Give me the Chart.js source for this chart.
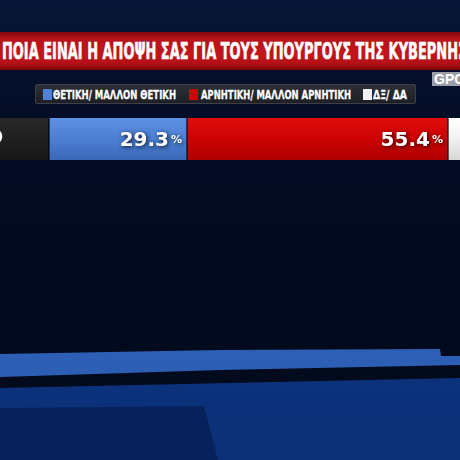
<!DOCTYPE html>
<html>
<head>
<meta charset="utf-8">
<script src="https://cdn.jsdelivr.net/npm/chart.js@4.4.1/dist/chart.umd.min.js"></script>
<style>
  html, body { margin: 0; padding: 0; width: 460px; height: 460px; overflow: hidden; }
  body {
    position: relative;
    background: linear-gradient(180deg, #081638 0%, #050e28 22%, #020a1e 55%, #020a1c 100%);
    font-family: "DejaVu Sans", "Liberation Sans", sans-serif;
  }
  .shape { position: absolute; left: 0; top: 0; width: 460px; height: 460px; }
  #lower { background: linear-gradient(180deg, #0b2f78 0%, #0d3684 40%, #0b3078 100%);
           clip-path: polygon(0 388px, 460px 378px, 460px 460px, 0 460px); }
  #wedge { background: linear-gradient(180deg, #072463 0%, #06215b 100%);
           clip-path: polygon(0 408px, 204px 406px, 218px 460px, 0 460px); }
  #strip { background: linear-gradient(180deg, #3468c0 0%, #2b5cb2 100%);
           clip-path: polygon(0 354px, 220px 350px, 440px 349px, 441px 356px, 460px 356px, 460px 365px, 220px 370px, 0 377px); }
  #banner {
    position: absolute; left: 0; top: 32px; width: 460px; height: 38px; overflow: hidden;
    background: linear-gradient(180deg, #7e070b 0%, #b8121a 18%, #c2161c 60%, #b01016 85%, #7a060a 100%);
  }
  #titleText {
    position: absolute; left: 2px; top: 0; line-height: 38px; white-space: nowrap;
    color: #ffffff; font-weight: bold; font-size: 23px; transform-origin: left center;
    -webkit-text-stroke: 0.6px #ffffff;
  }
  #gpo {
    position: absolute; left: 432px; top: 72px; width: 30px; height: 14px; overflow: hidden;
    background: #9a9ea6; color: #ffffff; font-weight: bold; font-size: 14px; line-height: 15px;
    font-family: "Liberation Sans", sans-serif; padding-left: 2px; box-sizing: border-box;
  }
  #legendBox {
    position: absolute; left: 35px; top: 84px; width: 381px; height: 20px; box-sizing: border-box;
    background: linear-gradient(180deg, #2c2f36 0%, #1d1f25 100%);
    border: 1px solid #3d4048; border-radius: 2px;
  }
  .swatch { position: absolute; top: 89px; width: 9px; height: 11px; }
  .legendText {
    position: absolute; top: 86px; line-height: 17px; white-space: nowrap; color: #ffffff;
    font-weight: bold; font-size: 13px; transform-origin: left center;
    -webkit-text-stroke: 0.3px #ffffff;
  }
  #chartWrap { position: absolute; left: -150px; top: 118px; width: 690px; height: 42px; }
</style>
</head>
<body>
<div class="shape" id="lower"></div>
<div class="shape" id="wedge"></div>
<div class="shape" id="strip"></div>

<div id="banner"><span id="titleText"><span id="titleFit">ΠΟΙΑ ΕΙΝΑΙ Η ΑΠΟΨΗ ΣΑΣ ΓΙΑ ΤΟΥΣ ΥΠΟΥΡΓΟΥΣ ΤΗΣ ΚΥΒΕΡΝΗ</span>ΣΗΣ;</span></div>
<div id="gpo">GPO</div>

<div id="legendBox"></div>
<div id="legendItems"></div>

<div id="chartWrap"><canvas id="pollChart"></canvas></div>

<script>
// Poll values (percent)
const categories = ['ΣΥΝΟΛΟ'];
const seriesLabels = ['ΘΕΤΙΚΗ/ ΜΑΛΛΟΝ ΘΕΤΙΚΗ', 'ΑΡΝΗΤΙΚΗ/ ΜΑΛΛΟΝ ΑΡΝΗΤΙΚΗ', 'ΔΞ/ ΔΑ'];
const positiveValues = [29.3];
const negativeValues = [55.4];
const unknownValues = [15.3];

const seriesColors = ['#4f82d6', '#cf0404', '#f2f2f2'];

// Squeeze a text element horizontally to a given width
function fitText(el, measureEl, target) {
  const w = measureEl.getBoundingClientRect().width;
  if (w > 0) el.style.transform = 'scaleX(' + (target / w) + ')';
}

// HTML legend: swatch left, text left, text width
const legendLayout = [
  { swatch: 43, text: 53, width: 123 },
  { swatch: 189, text: 201, width: 150 },
  { swatch: 363, text: 373, width: 34 }
];
const legendItems = document.getElementById('legendItems');
seriesLabels.forEach((label, i) => {
  const sw = document.createElement('div');
  sw.className = 'swatch';
  sw.style.left = legendLayout[i].swatch + 'px';
  sw.style.background = seriesColors[i];
  legendItems.appendChild(sw);
  const tx = document.createElement('span');
  tx.className = 'legendText';
  tx.style.left = legendLayout[i].text + 'px';
  tx.textContent = label;
  legendItems.appendChild(tx);
  fitText(tx, tx, legendLayout[i].width);
});

fitText(document.getElementById('titleText'), document.getElementById('titleFit'), 456);

function vGradient(top, mid, bottom) {
  return context => {
    const area = context.chart.chartArea;
    if (!area) return mid;
    const g = context.chart.ctx.createLinearGradient(0, area.top, 0, area.bottom);
    g.addColorStop(0, top);
    g.addColorStop(0.5, mid);
    g.addColorStop(1, bottom);
    return g;
  };
}

// Dark box with the row label, left of the bar
const rowLabelBox = {
  id: 'rowLabelBox',
  beforeDatasetsDraw(chart) {
    const { ctx, chartArea } = chart;
    const yScale = chart.scales.y;
    ctx.save();
    const g = ctx.createLinearGradient(0, chartArea.top, 0, chartArea.bottom);
    g.addColorStop(0, '#282828');
    g.addColorStop(1, '#171717');
    ctx.fillStyle = g;
    ctx.fillRect(0, chartArea.top, chartArea.left - 1, chartArea.bottom - chartArea.top);
    ctx.fillStyle = '#ffffff';
    ctx.font = 'bold 17px "DejaVu Sans Condensed", "Liberation Sans Narrow", sans-serif';
    ctx.textAlign = 'right';
    ctx.textBaseline = 'middle';
    chart.data.labels.forEach((label, i) => {
      ctx.fillText(label, chartArea.left - 46, yScale.getPixelForValue(i));
    });
    ctx.restore();
  }
};

// Value + small % at the right end of the labelled segments
const valueLabels = {
  id: 'valueLabels',
  afterDatasetsDraw(chart) {
    const { ctx } = chart;
    chart.data.datasets.forEach((ds, i) => {
      if (!ds.showValue) return;
      const meta = chart.getDatasetMeta(i);
      meta.data.forEach((bar, j) => {
        const right = bar.x - 5;
        const mid = bar.y;
        ctx.save();
        ctx.shadowColor = 'rgba(0,0,0,0.85)';
        ctx.shadowBlur = 4;
        ctx.shadowOffsetX = 1;
        ctx.shadowOffsetY = 1;
        ctx.fillStyle = '#ffffff';
        ctx.textAlign = 'right';
        ctx.textBaseline = 'alphabetic';
        ctx.font = 'bold 11px "DejaVu Sans", sans-serif';
        ctx.fillText('%', right, mid + 4);
        const pw = ctx.measureText('%').width;
        ctx.font = 'bold 20px "DejaVu Sans", sans-serif';
        ctx.fillText(ds.data[j].toFixed(1), right - pw - 2, mid + 7);
        ctx.restore();
      });
    });
  }
};

new Chart(document.getElementById('pollChart'), {
  type: 'bar',
  data: {
    labels: categories,
    datasets: [
      { label: seriesLabels[0], data: positiveValues, showValue: true, backgroundColor: vGradient('#5e90e2', '#4c7fd4', '#3a67b6') },
      { label: seriesLabels[1], data: negativeValues, showValue: true, backgroundColor: vGradient('#e20c0c', '#cd0303', '#ad0000') },
      { label: seriesLabels[2], data: unknownValues, showValue: false, backgroundColor: vGradient('#ffffff', '#f1f1f1', '#d6d6d6') }
    ].map(ds => ({
      borderWidth: { left: 1, right: 1, top: 0, bottom: 0 },
      borderColor: '#0a1222',
      borderSkipped: false,
      barPercentage: 1,
      categoryPercentage: 1,
      ...ds
    }))
  },
  options: {
    indexAxis: 'y',
    responsive: true,
    maintainAspectRatio: false,
    animation: false,
    layout: { padding: { left: 199, right: 20, top: 0, bottom: 0 } },
    plugins: { legend: { display: false }, tooltip: { enabled: false } },
    scales: {
      x: { stacked: true, min: 0, max: 100, display: false },
      y: { stacked: true, display: false }
    }
  },
  plugins: [rowLabelBox, valueLabels]
});
</script>
</body>
</html>
